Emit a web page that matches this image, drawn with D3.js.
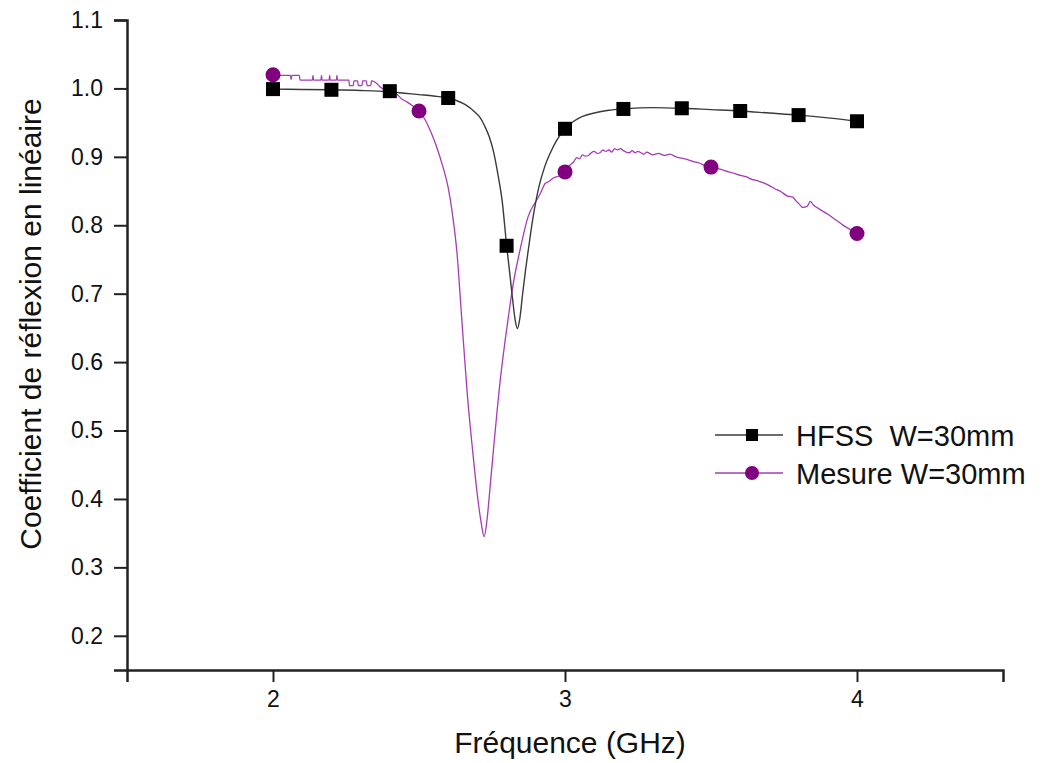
<!DOCTYPE html>
<html><head><meta charset="utf-8">
<script src="https://cdn.jsdelivr.net/npm/d3@7"></script>
<style>
body{margin:0;background:#fff;}
text{font-family:"Liberation Sans",Arial,sans-serif;fill:#111;}
</style></head>
<body>
<svg id="c" width="1042" height="763"></svg>
<script>
// ---- data ----
const xTicks = [2, 3, 4];
const yTicks = [0.2, 0.3, 0.4, 0.5, 0.6, 0.7, 0.8, 0.9, 1.0, 1.1];
const xLabel = "Fréquence (GHz)";
const yLabel = "Coefficient de réflexion en linéaire";
const seriesNames = ["HFSS  W=30mm", "Mesure W=30mm"];

// HFSS markers
const hfssMarkX = [2.0, 2.2, 2.4, 2.6, 2.8, 3.0, 3.2, 3.4, 3.6, 3.8, 4.0];
const hfssMarkY = [0.999, 0.998, 0.996, 0.986, 0.770, 0.941, 0.970, 0.971, 0.967, 0.961, 0.952];
// HFSS curve
const hfssCurveX = [2.00,2.10,2.20,2.30,2.40,2.45,2.50,2.55,2.60,2.63,2.66,2.69,2.71,2.725,2.74,2.755,2.77,2.785,2.80,2.81,2.82,2.83,2.837,2.845,2.855,2.865,2.875,2.89,2.91,2.93,2.95,2.97,3.00,3.03,3.06,3.10,3.15,3.20,3.30,3.40,3.50,3.60,3.70,3.80,3.90,4.00];
const hfssCurveY = [0.999,0.9985,0.998,0.997,0.995,0.993,0.991,0.989,0.986,0.982,0.976,0.966,0.957,0.945,0.930,0.908,0.875,0.835,0.771,0.733,0.694,0.660,0.649,0.663,0.700,0.735,0.766,0.810,0.855,0.885,0.906,0.923,0.941,0.952,0.959,0.964,0.968,0.970,0.972,0.971,0.969,0.967,0.964,0.961,0.957,0.952];

// Measured markers
const mesMarkX = [2.0, 2.5, 3.0, 3.5, 4.0];
const mesMarkY = [1.020, 0.967, 0.878, 0.885, 0.788];
// Measured curve
const mesCurveX = [2.000,2.030,2.060,2.062,2.065,2.090,2.093,2.135,2.137,2.139,2.164,2.166,2.168,2.192,2.194,2.196,2.217,2.219,2.221,2.260,2.262,2.275,2.277,2.290,2.292,2.305,2.307,2.320,2.322,2.335,2.337,2.350,2.370,2.400,2.420,2.440,2.460,2.480,2.500,2.520,2.540,2.560,2.580,2.600,2.615,2.630,2.645,2.665,2.685,2.700,2.713,2.723,2.733,2.745,2.755,2.777,2.806,2.823,2.846,2.874,2.903,2.915,2.932,2.945,2.960,2.980,3.000,3.010,3.020,3.030,3.040,3.050,3.060,3.070,3.080,3.090,3.100,3.110,3.120,3.130,3.140,3.150,3.160,3.170,3.180,3.190,3.200,3.210,3.220,3.230,3.240,3.250,3.260,3.270,3.280,3.290,3.300,3.320,3.340,3.360,3.380,3.400,3.420,3.440,3.460,3.480,3.500,3.520,3.540,3.560,3.580,3.600,3.620,3.640,3.660,3.680,3.700,3.720,3.740,3.760,3.780,3.790,3.800,3.815,3.830,3.840,3.850,3.870,3.900,3.920,3.940,3.960,3.980,4.000];
const mesCurveY = [1.020,1.019,1.019,1.013,1.019,1.019,1.012,1.012,1.019,1.012,1.012,1.019,1.012,1.012,1.019,1.012,1.012,1.019,1.012,1.012,1.004,1.004,1.011,1.011,1.004,1.004,1.011,1.011,1.004,1.004,1.011,1.009,1.001,0.996,0.993,0.985,0.980,0.974,0.967,0.955,0.937,0.915,0.888,0.855,0.815,0.760,0.672,0.555,0.465,0.405,0.365,0.345,0.370,0.425,0.472,0.569,0.666,0.715,0.764,0.813,0.837,0.846,0.861,0.864,0.869,0.872,0.878,0.885,0.889,0.893,0.899,0.897,0.903,0.901,0.902,0.906,0.908,0.905,0.906,0.910,0.908,0.910,0.907,0.912,0.910,0.912,0.909,0.907,0.906,0.909,0.906,0.908,0.906,0.904,0.907,0.905,0.903,0.905,0.902,0.904,0.900,0.898,0.896,0.893,0.891,0.887,0.885,0.883,0.881,0.878,0.876,0.873,0.871,0.867,0.865,0.862,0.858,0.853,0.849,0.843,0.841,0.836,0.832,0.826,0.828,0.835,0.830,0.824,0.816,0.810,0.804,0.798,0.793,0.788];

// ---- chart ----
const svg = d3.select("#c");
const x = d3.scaleLinear().domain([1.5, 4.5]).range([127, 1003]);
const y = d3.scaleLinear().domain([0.15, 1.1]).range([670, 20]);
const axisColor = "#222";

// minor ticks
const xMinor = [1.5, 2.5, 3.5, 4.5];
const yMinor = d3.range(0, 10).map(i => +(0.15 + i * 0.1).toFixed(2));

const gx = svg.append("g").attr("transform", "translate(0,670)");
gx.call(d3.axisBottom(x).tickValues(xMinor).tickSize(7).tickFormat(""));
gx.call(d3.axisBottom(x).tickValues(xTicks).tickSize(12).tickPadding(9).tickFormat(d3.format("d")));
gx.selectAll("path").attr("stroke", axisColor).attr("stroke-width", 2.5);
gx.selectAll("line").attr("stroke", axisColor).attr("stroke-width", 2);
gx.selectAll("text").style("font-size", "23px").attr("fill", "#111");

const gy = svg.append("g").attr("transform", "translate(127,0)");
gy.call(d3.axisLeft(y).tickValues(yMinor).tickSize(8).tickFormat(""));
gy.call(d3.axisLeft(y).tickValues(yTicks).tickSize(13).tickPadding(11).tickFormat(d3.format(".1f")));
gy.selectAll("path").attr("stroke", axisColor).attr("stroke-width", 2.5);
gy.selectAll("line").attr("stroke", axisColor).attr("stroke-width", 2);
gy.selectAll("text").style("font-size", "23px").attr("fill", "#111");
svg.selectAll(".domain").attr("fill", "none");

// titles
svg.append("text").attr("x", 570).attr("y", 753).attr("text-anchor", "middle")
  .style("font-size", "30px").text(xLabel);
svg.append("text").attr("transform", "translate(41,324) rotate(-90)").attr("text-anchor", "middle")
  .style("font-size", "30px").text(yLabel);

// curves
const line = d3.line().x(d => x(d[0])).y(d => y(d[1])).curve(d3.curveMonotoneX);
const hfssC = hfssCurveX.map((v, i) => [v, hfssCurveY[i]]);
const mesC = mesCurveX.map((v, i) => [v, mesCurveY[i]]);
const cHFSS = "#3a3a3a", cMesLine = "#a53cb3", cMes = "#800080";

svg.append("path").datum(mesC).attr("d", line).attr("fill", "none")
  .attr("stroke", cMesLine).attr("stroke-width", 1.3);
svg.append("path").datum(hfssC).attr("d", line).attr("fill", "none")
  .attr("stroke", cHFSS).attr("stroke-width", 1.4);

// markers
const sq = 14;
svg.selectAll(".sq").data(hfssMarkX.map((v, i) => [v, hfssMarkY[i]])).enter().append("rect")
  .attr("x", d => x(d[0]) - sq / 2).attr("y", d => y(d[1]) - sq / 2)
  .attr("width", sq).attr("height", sq).attr("fill", "#000");
svg.selectAll(".ci").data(mesMarkX.map((v, i) => [v, mesMarkY[i]])).enter().append("circle")
  .attr("cx", d => x(d[0])).attr("cy", d => y(d[1])).attr("r", 7.5).attr("fill", cMes);

// legend
const leg = svg.append("g");
const rows = [{y: 435, name: seriesNames[0], line: cHFSS, type: "sq"},
              {y: 473, name: seriesNames[1], line: cMesLine, type: "ci"}];
rows.forEach(r => {
  leg.append("line").attr("x1", 715).attr("x2", 783).attr("y1", r.y).attr("y2", r.y)
    .attr("stroke", r.line).attr("stroke-width", 1.4);
  if (r.type === "sq") {
    leg.append("rect").attr("x", 752 - 6).attr("y", r.y - 6).attr("width", 12).attr("height", 12).attr("fill", "#000");
  } else {
    leg.append("circle").attr("cx", 752).attr("cy", r.y).attr("r", 7).attr("fill", cMes);
  }
  leg.append("text").attr("x", 796).attr("y", r.y + 11).style("font-size", "29px")
    .style("white-space", "pre").attr("xml:space", "preserve").text(r.name);
});
</script>
</body></html>
